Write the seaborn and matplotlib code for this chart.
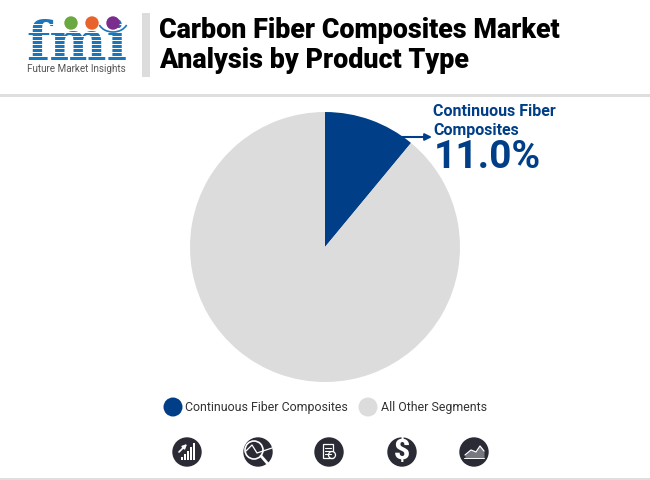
import matplotlib
matplotlib.use('Agg')
import matplotlib.pyplot as plt
from matplotlib.patches import Arc, Circle, Rectangle
import seaborn as sns

segments = ['Continuous Fiber Composites', 'All Other Segments']
shares = [11.0, 89.0]
colors = ['#003f87', '#dcdcdc']
title_lines = ['Carbon Fiber Composites Market', 'Analysis by Product Type']

sns.set_theme(style='white')
plt.rcParams['font.family'] = ['Roboto', 'DejaVu Sans']

fig = plt.figure(figsize=(6.5, 4.8), dpi=100, facecolor='white')
# whole figure as one axes, in pixels
ax = fig.add_axes([0, 0, 1, 1])
ax.set_xlim(0, 650)
ax.set_ylim(480, 0)
ax.axis('off')

# header
ax.add_patch(Rectangle((142, 13), 8, 64, color='#dcdcdc', lw=0))
ax.add_patch(Rectangle((0, 94), 650, 2.5, color='#dedede', lw=0))
ax.add_patch(Rectangle((0, 478), 650, 2, color='#dedede', lw=0))
ax.text(159, 31, title_lines[0], fontsize=19.4, fontweight='black', color='black', va='center')
ax.text(159, 61, title_lines[1], fontsize=19.4, fontweight='black', color='black', va='center')

# logo
logo_blue = '#1b75bb'
ax.text(77, 60, 'fmi', fontsize=39, family='DejaVu Serif', fontweight='bold', color=logo_blue,
        ha='center', va='baseline')
for y in range(24, 62, 4):
    ax.add_patch(Rectangle((26, y), 104, 1.1, color='white', lw=0, zorder=3))
for x, c in zip([71, 92, 113], ['#6aa842', '#e8632c', '#7b2d8e']):
    ax.add_patch(Circle((x, 23), 6.7, color=c, lw=0, zorder=4))
ax.add_patch(Arc((113, 20), 30, 24, theta1=20, theta2=160, color=logo_blue, lw=1.2, zorder=4))
ax.text(76, 68.5, 'Future Market Insights', fontsize=7.1, color='#555555', ha='center', va='center')

# callout
ax.annotate('', xy=(432, 137), xytext=(400, 137),
            arrowprops=dict(arrowstyle='-|>', color=colors[0], lw=1.5, mutation_scale=10,
                            shrinkA=0, shrinkB=0), zorder=6)
ax.text(433, 111, 'Continuous Fiber', fontsize=11.5, fontweight='bold', color=colors[0], va='center')
ax.text(433, 130, 'Composites', fontsize=11.5, fontweight='bold', color=colors[0], va='center')
ax.text(434, 157, f'{shares[0]:.1f}%', fontsize=28, fontweight='bold', color=colors[0], va='center')

# legend
for x, c, label, tx in zip([173, 368], colors, segments, [185, 381]):
    ax.add_patch(Circle((x, 407), 9.5, color=c, lw=0))
    ax.text(tx, 407.5, label, fontsize=8.9, color='#333333', va='center')

# icons row
dark = '#2b2b36'
for x in [187, 258, 329, 402, 474]:
    ax.add_patch(Circle((x, 452), 14.7, color=dark, lw=0))
# bars icon
for i, h in enumerate([3, 6, 9, 13, 17]):
    ax.add_patch(Rectangle((181 + i * 3, 460 - h), 2, h, color='white', lw=0))
ax.annotate('', xy=(187, 444), xytext=(179, 452),
            arrowprops=dict(arrowstyle='-|>', color='white', lw=1.2, mutation_scale=6,
                            shrinkA=0, shrinkB=0))
# lens icon
ax.add_patch(Circle((254, 450), 9, fill=False, ec='white', lw=1.2))
ax.plot([261, 268], [456, 464], color='white', lw=2)
ax.plot([246, 252, 257, 272], [451, 445, 453, 448], color='white', lw=0.9)
# report icon
ax.add_patch(Rectangle((323, 444), 10, 14, fill=False, ec='white', lw=0.9))
for y in [448, 451, 454]:
    ax.plot([325, 331], [y, y], color='white', lw=0.8)
ax.add_patch(Circle((332, 455), 3.5, facecolor=dark, ec='white', lw=0.9))
# dollar icon
ax.text(402, 452, '$', fontsize=20, fontweight='black', color='white', ha='center', va='center',
        parse_math=False)
# area icon
ax.fill_between([465, 471, 476, 480, 484], [458, 458, 458, 458, 458], [455, 450, 452, 446, 451],
                color='#77777f', lw=0)
ax.plot([465, 471, 476, 480, 484], [455, 450, 452, 446, 451], color='white', lw=0.9)
ax.plot([464, 484], [458, 458], color='white', lw=0.7)

# pie, in its own axes so it is not flipped
pie_ax = fig.add_axes([190 / 650, 1 - 382 / 480, 270 / 650, 270 / 480])
pie_ax.pie(shares, colors=colors, startangle=90, counterclock=False, radius=1,
           wedgeprops={'linewidth': 0})
pie_ax.set_xlim(-1, 1)
pie_ax.set_ylim(-1, 1)
pie_ax.patch.set_alpha(0)

# callout arrow sits on top of the pie
ax.set_zorder(2)
ax.patch.set_alpha(0)

fig.savefig('out.png', dpi=100)
